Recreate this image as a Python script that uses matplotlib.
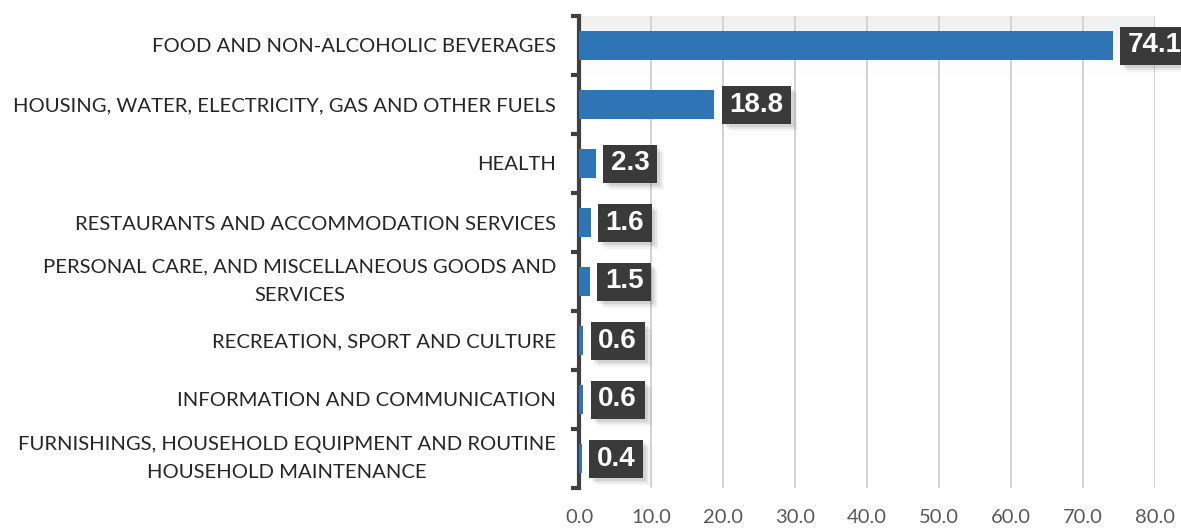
import matplotlib
matplotlib.use("Agg")
import matplotlib.pyplot as plt
import numpy as np
from matplotlib.patches import Rectangle
from matplotlib.transforms import IdentityTransform

categories = [
    "FOOD AND NON-ALCOHOLIC BEVERAGES",
    "HOUSING, WATER, ELECTRICITY, GAS AND OTHER FUELS",
    "HEALTH",
    "RESTAURANTS AND ACCOMMODATION SERVICES",
    "PERSONAL CARE, AND MISCELLANEOUS GOODS AND\nSERVICES",
    "RECREATION, SPORT AND CULTURE",
    "INFORMATION AND COMMUNICATION",
    "FURNISHINGS, HOUSEHOLD EQUIPMENT AND ROUTINE\nHOUSEHOLD MAINTENANCE",
]
values = [74.1, 18.8, 2.3, 1.6, 1.5, 0.6, 0.6, 0.4]
xticks = [0, 10, 20, 30, 40, 50, 60, 70, 80]

W, H, DPI = 1181, 529, 100
fig = plt.figure(figsize=(W / DPI, H / DPI), dpi=DPI)
ax = fig.add_axes([579 / W, 1 - 488 / H, (1155 - 579) / W, (488 - 16) / H])

y = np.arange(len(categories))
ax.barh(y, values, height=0.5, color="#2E75B6", zorder=3)

# faint gradient band at top
grad = np.linspace(1, 0, 100).reshape(-1, 1)
ax.imshow(np.dstack([np.full_like(grad, 0.5)] * 3 + [grad * 0.12]),
          extent=[0, 80, 0.55, -0.5], aspect="auto", zorder=0)
ax.set_ylim(len(categories) - 0.5, -0.5)
ax.set_xlim(0, 80)

ax.set_xticks(xticks)
ax.set_xticklabels([f"{v:.1f}" for v in xticks], fontfamily="Lato", fontsize=14.5, color="#595959")
ax.grid(axis="x", color="#D0D0D0", lw=1.3, zorder=1)
ax.tick_params(axis="x", length=0, pad=15)

ax.set_yticks(y)
ax.set_yticklabels(categories, fontfamily="Lato", fontsize=14.6, color="#262626",
                   multialignment="center", linespacing=1.85)
for lab in ax.get_yticklabels():
    if "\n" in lab.get_text():
        lab.set_verticalalignment("center")
ax.tick_params(axis="y", which="major", length=0, pad=16.5)
ax.set_yticks(np.arange(-0.5, len(categories)), minor=True)
ax.tick_params(axis="y", which="minor", length=6, width=3, color="#404040", direction="out")

for s in ["top", "right", "bottom"]:
    ax.spines[s].set_visible(False)
ax.spines["left"].set_color("#404040")
ax.spines["left"].set_linewidth(3)

fig.canvas.draw()
renderer = fig.canvas.get_renderer()
for yi, v in zip(y, values):
    t = ax.annotate(f"{v:.1f}", xy=(v, yi), xytext=(15, 0), textcoords="offset pixels",
                    ha="left", va="center", fontsize=20, fontweight="bold",
                    fontfamily="Liberation Sans", color="white", zorder=8,
                    annotation_clip=False)
    bb = t.get_window_extent(renderer)
    px, py = 7.5, 6
    x0, y0 = bb.x0 - px, bb.y0 - py
    w, h = bb.width + 2 * px, bb.height + 2 * py
    for k, a in [(7, 0.04), (5, 0.06), (3, 0.08)]:
        ax.add_patch(Rectangle((x0 + k, y0 - k), w, h, transform=IdentityTransform(),
                               facecolor="black", alpha=a, lw=0, zorder=6, clip_on=False))
    ax.add_patch(Rectangle((x0, y0), w, h, transform=IdentityTransform(),
                           facecolor="#3A3A3A", lw=0, zorder=7, clip_on=False))

fig.savefig("out.png", dpi=DPI)
